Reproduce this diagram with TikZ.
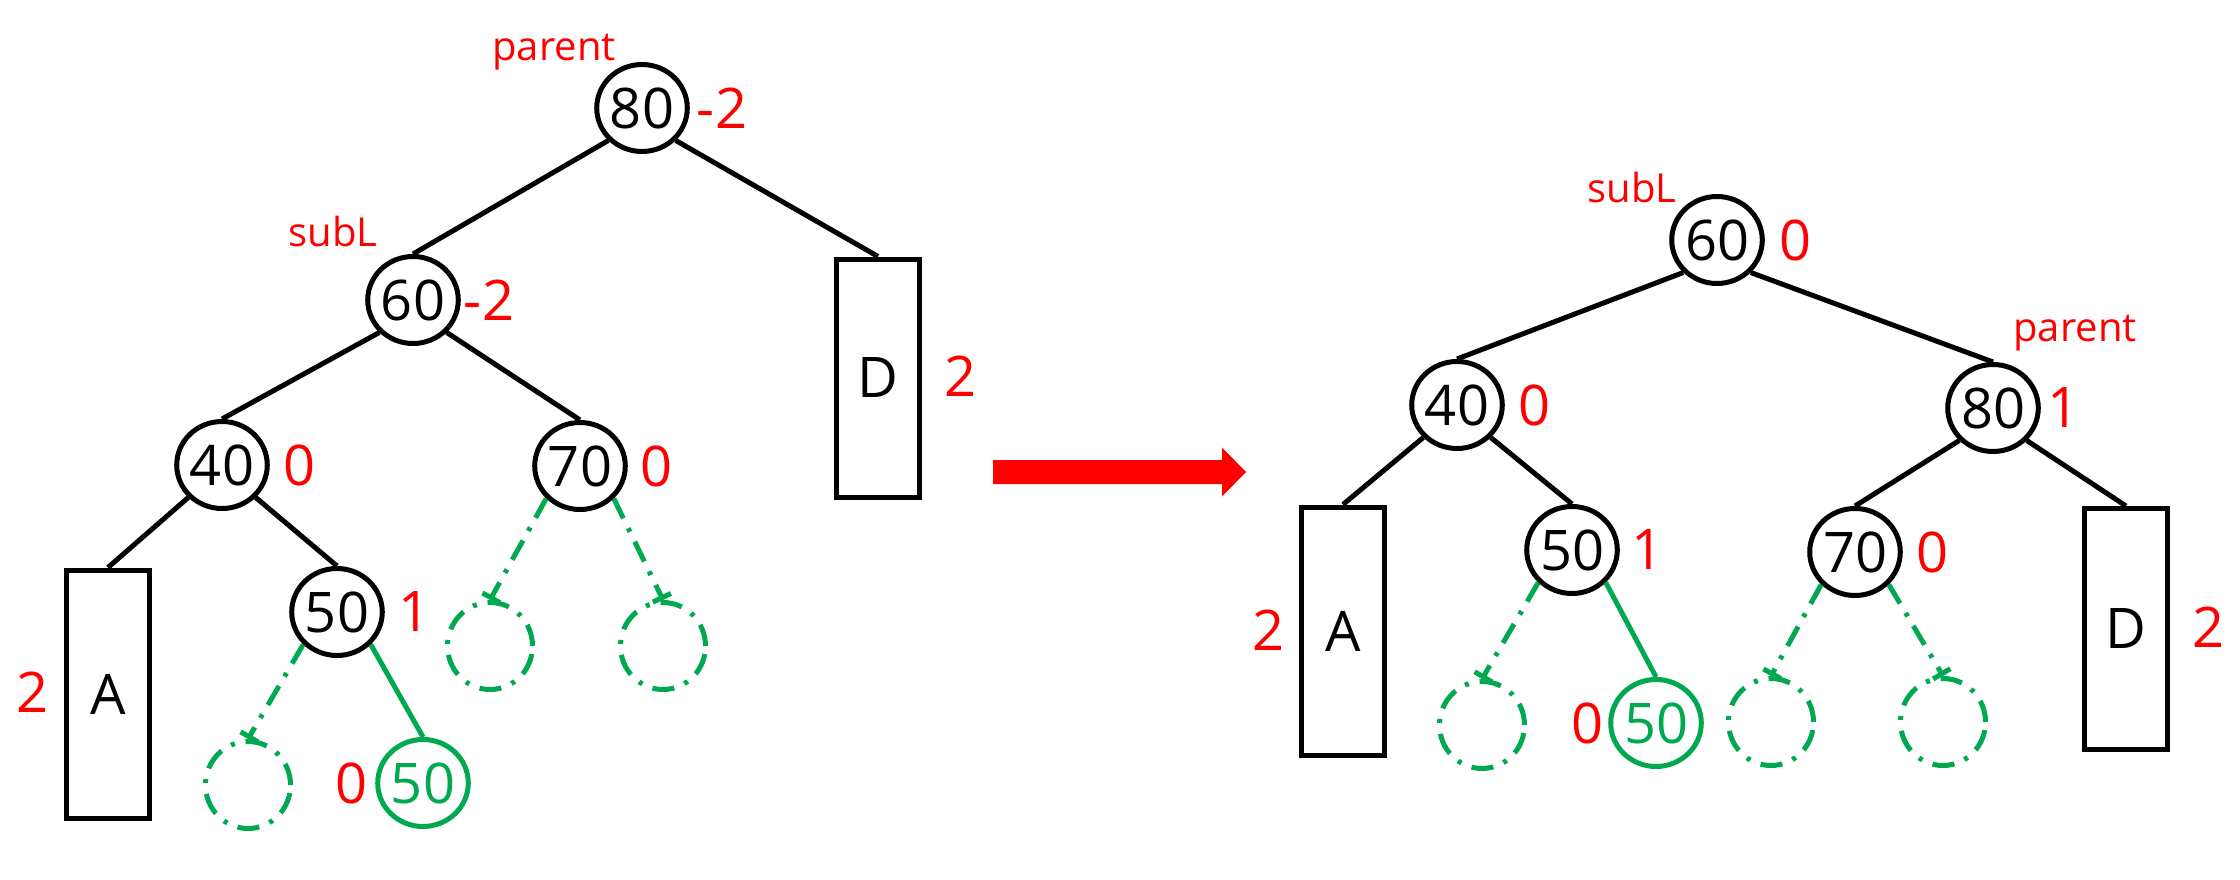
\documentclass[tikz,border=0pt]{standalone}
\usepackage{fontspec}
\setmainfont{Open Sans}
\usetikzlibrary{arrows.meta,shapes.geometric}
\definecolor{grn}{RGB}{0,168,80}
\definecolor{rd}{RGB}{255,0,0}
\begin{document}
\begin{tikzpicture}[x=1pt,y=-1pt,
  nd/.style={ellipse,draw,line width=5pt,minimum width=85pt,minimum height=87pt,inner sep=0pt,font=\fontsize{56}{56}\selectfont},
  gnd/.style={nd,draw=grn,text=grn},
  nullnd/.style={ellipse,draw=grn,line width=5pt,minimum width=85pt,minimum height=87pt,inner sep=0pt,dash pattern=on 22pt off 11pt on 4pt off 11pt},
  boxnd/.style={rectangle,draw,line width=5pt,minimum width=83pt,inner sep=0pt,font=\fontsize{56}{56}\selectfont},
  bal/.style={text=rd,inner sep=0pt,font=\fontsize{56}{56}\selectfont},
  tag/.style={text=rd,inner sep=0pt,font=\fontsize{40}{40}\selectfont},
  edge/.style={line width=5pt},
  gedge/.style={line width=5pt,draw=grn},
  nedge/.style={line width=5pt,draw=grn,dash pattern=on 22pt off 11pt on 4pt off 11pt,-{Bar[width=20pt]}}
]
\useasboundingbox (0,0) rectangle (2240,880);

% ---------- left tree ----------
\node[tag] (tparL) at (554,52) {parent};
\node[nd] (L80) at (642,108) {80};
\node[bal] (bL80) at (722,108) {-2};
\node[tag] (tsubL) at (333,231) {subL};
\node[nd] (L60) at (413,300) {60};
\node[bal] (bL60) at (489,300) {-2};
\node[boxnd,minimum height=238pt] (LD) at (878,378) {D};
\node[bal] (bLD) at (960,376) {2};
\node[nd] (L40) at (222,465) {40};
\node[bal] (bL40) at (300,465) {0};
\node[nd] (L70) at (580,466) {70};
\node[bal] (bL70) at (657,466) {0};
\node[boxnd,minimum height=248pt] (LA) at (108,694) {A};
\node[bal] (bLA) at (33,692) {2};
\node[nd] (L50) at (337,612) {50};
\node[bal] (bL50) at (415,612) {1};
\node[nullnd] (Le1) at (248,785) {};
\node[gnd] (Lg50) at (423,783) {50};
\node[bal] (bLg50) at (352,783) {0};
\node[nullnd] (Le2) at (490,646) {};
\node[nullnd] (Le3) at (663,646) {};

\draw[edge] (L80.south west) -- (L60.north);
\draw[edge] (L80.south east) -- (LD.north);
\draw[edge] (L60.south west) -- (L40.north);
\draw[edge] (L60.south east) -- (L70.north);
\draw[edge] (L40.south west) -- (LA.north);
\draw[edge] (L40.south east) -- (L50.north);
\draw[nedge] (L50.south west) -- (Le1.north);
\draw[gedge] (L50.south east) -- (Lg50.north);
\draw[nedge] (L70.south west) -- (Le2.north);
\draw[nedge] (L70.south east) -- (Le3.north);

% ---------- arrow ----------
\coordinate (arS) at (993,472);
\coordinate (arE) at (1246,472);
\fill[rd] ([yshift=-12pt]arS) -- ([xshift=-24pt,yshift=-12pt]arE) -- ([xshift=-24pt,yshift=-24.5pt]arE) -- (arE)
  -- ([xshift=-24pt,yshift=24.5pt]arE) -- ([xshift=-24pt,yshift=12pt]arE) -- ([yshift=12pt]arS) -- cycle;

% ---------- right tree ----------
\node[tag] (tsubR) at (1632,187) {subL};
\node[nd] (R60) at (1717,240) {60};
\node[bal] (bR60) at (1795,240) {0};
\node[tag] (tparR) at (2075,333) {parent};
\node[nd] (R40) at (1457,405) {40};
\node[bal] (bR40) at (1534,405) {0};
\node[nd] (R80) at (1993,408) {80};
\node[bal] (bR80) at (2063,408) {1};
\node[boxnd,minimum height=248pt] (RA) at (1343,631) {A};
\node[bal] (bRA) at (1268,630) {2};
\node[nd] (R50) at (1572,550) {50};
\node[bal] (bR50) at (1647,550) {1};
\node[nd] (R70) at (1855,552) {70};
\node[bal] (bR70) at (1932,552) {0};
\node[boxnd,minimum height=241pt] (RD) at (2126,629) {D};
\node[bal] (bRD) at (2208,627) {2};
\node[nullnd] (Re1) at (1482,725) {};
\node[gnd] (Rg50) at (1656,723) {50};
\node[bal] (bRg50) at (1587,723) {0};
\node[nullnd] (Re2) at (1771,722) {};
\node[nullnd] (Re3) at (1943,722) {};

\draw[edge] (R60.south west) -- (R40.north);
\draw[edge] (R60.south east) -- (R80.north);
\draw[edge] (R40.south west) -- (RA.north);
\draw[edge] (R40.south east) -- (R50.north);
\draw[edge] (R80.south west) -- (R70.north);
\draw[edge] (R80.south east) -- (RD.north);
\draw[nedge] (R50.south west) -- (Re1.north);
\draw[gedge] (R50.south east) -- (Rg50.north);
\draw[nedge] (R70.south west) -- (Re2.north);
\draw[nedge] (R70.south east) -- (Re3.north);
\end{tikzpicture}
\end{document}
